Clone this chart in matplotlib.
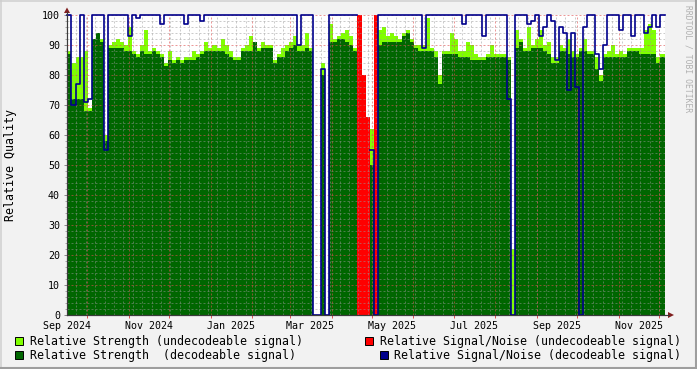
import numpy as np
import matplotlib
matplotlib.use("Agg")
import matplotlib.pyplot as plt
import matplotlib.dates as mdates
from matplotlib.patches import Rectangle, Polygon
from matplotlib.lines import Line2D
import datetime as dt

plt.rcParams['font.family'] = ['DejaVu Sans Mono']
plt.rcParams['lines.scale_dashes'] = False

# ---------------- data (3-day bins starting 2024-09-16) ----------------
start = dt.datetime(2024, 9, 16, 8)
span_days = 445
bin_days = 3

strength_dec = [
    87, 72, 72, 72, 68, 68, 92, 94, 91, 58,
    89, 89, 89, 89, 88, 88, 87, 86, 88, 87,
    87, 88, 87, 86, 83, 85, 84, 85, 84, 85,
    85, 85, 86, 87, 88, 88, 88, 88, 88, 87,
    86, 85, 85, 88, 88, 88, 91, 88, 89, 89,
    89, 84, 86, 86, 88, 89, 90, 88, 88, 89,
    88, 0, 0, 80, 0, 91, 91, 92, 92, 91,
    90, 88, 0, 0, 0, 50, 0, 90, 91, 91,
    91, 91, 91, 93, 94, 91, 89, 88, 88, 88,
    88, 86, 77, 87, 87, 87, 87, 86, 86, 86,
    85, 85, 85, 85, 86, 86, 86, 86, 86, 85,
    0, 89, 91, 88, 88, 89, 89, 89, 88, 87,
    84, 84, 88, 88, 87, 86, 86, 88, 88, 87,
    87, 82, 78, 86, 86, 86, 86, 86, 86, 88,
    88, 88, 87, 87, 87, 87, 84, 86, 86]

strength_undec = [
    88, 84, 86, 86, 88, 69, 92, 94, 92, 60,
    90, 91, 92, 91, 90, 96, 88, 87, 90, 95,
    88, 89, 88, 87, 84, 88, 85, 86, 85, 86,
    86, 88, 87, 88, 91, 89, 90, 89, 92, 90,
    88, 86, 86, 89, 90, 93, 91, 89, 91, 90,
    90, 85, 87, 89, 90, 91, 93, 90, 90, 94,
    89, 0, 0, 84, 0, 97, 92, 93, 94, 95,
    93, 89, 0, 0, 0, 62, 0, 95, 96, 93,
    94, 93, 92, 94, 95, 92, 90, 90, 90, 99,
    89, 88, 80, 88, 88, 94, 92, 88, 88, 91,
    90, 87, 86, 86, 87, 90, 87, 87, 87, 86,
    22, 95, 92, 89, 96, 90, 92, 95, 90, 91,
    86, 86, 90, 89, 92, 88, 87, 89, 92, 88,
    88, 86, 80, 87, 88, 90, 87, 88, 87, 89,
    89, 89, 89, 95, 97, 95, 86, 87, 87]

snr_undec = [0] * 72 + [100, 80, 66, 0, 100] + [0] * 72

nan = float('nan')
snr_dec = [
    100, 70, 77, 100, 71, 72, 100, 100, 100, 55,
    100, 100, 100, 100, 100, 93, 100, 99, 100, 100,
    100, 100, 100, 97, 100, 100, 100, 100, 100, 97,
    100, 100, 100, 98, 100, 100, 100, 100, 100, 100,
    100, 100, 100, 100, 100, 100, 100, 100, 100, 100,
    100, 100, 100, 100, 100, 100, 100, 90, 100, 100,
    100, 0, 0, 82, 0, 100, 100, 100, 100, 100,
    100, 100, nan, nan, nan, 55, 0, 100, 100, 100,
    100, 100, 100, 100, 100, 100, 100, 100, 89, 100,
    100, 100, 100, 100, 100, 100, 100, 100, 97, 100,
    100, 100, 100, 93, 100, 100, 100, 100, 100, 72,
    0, 100, 100, 100, 97, 98, 100, 93, 96, 100,
    98, 85, 96, 94, 75, 94, 76, 0, 96, 100,
    100, 87, 82, 90, 100, 100, 100, 95, 100, 100,
    93, 100, 100, 94, 96, 100, 96, 100, 100]

x_labels = ['Sep 2024', 'Nov 2024', 'Jan 2025', 'Mar 2025',
            'May 2025', 'Jul 2025', 'Sep 2025', 'Nov 2025']
legend_labels = ['Relative Strength (undecodeable signal)',
                 'Relative Strength  (decodeable signal)',
                 'Relative Signal/Noise (undecodeable signal)',
                 'Relative Signal/Noise (decodeable signal)']

# ---------------- style ----------------
W, H = 697, 369
BG = '#f2f2f2'
LG = '#80ff00'
DG = '#006600'
RED = '#ff0000'
BLUE = '#00008b'
GRID = (0.6, 0.6, 0.6, 0.6)
MGRID = (0.87, 0.31, 0.31, 0.6)
ARROW = '#801f1f'
AXIS = '#3a3a3a'

fig = plt.figure(figsize=(W / 100, H / 100), dpi=100, facecolor=BG)
L, R, T, B = 67, 665, 15, 315
ax = fig.add_axes([L / W, 1 - B / H, (R - L) / W, (B - T) / H])
ax.set_facecolor('white')

n = len(strength_dec)
t0 = mdates.date2num(start)
t1 = t0 + span_days
edges = t0 + np.minimum(np.arange(n + 1) * bin_days, span_days)


def stepv(v):
    v = np.asarray(v, float)
    return np.append(v, v[-1])


ax.fill_between(edges, 0, stepv(strength_undec), step='post', color=LG,
                lw=0, antialiased=False, zorder=1)
ax.fill_between(edges, 0, stepv(strength_dec), step='post', color=DG,
                lw=0, antialiased=False, zorder=1.1)
ax.fill_between(edges, 0, stepv(snr_undec), step='post', color=RED,
                lw=0, antialiased=False, zorder=1.2)

# grid (drawn over the areas, like rrdtool)
weeks = []
d = dt.datetime(2024, 9, 23)
while mdates.date2num(d) < t1:
    weeks.append(mdates.date2num(d))
    d += dt.timedelta(days=7)
months = []
y, m = 2024, 10
while True:
    v = mdates.date2num(dt.datetime(y, m, 1))
    if v >= t1:
        break
    months.append(v)
    m += 1
    if m > 12:
        m = 1
        y += 1
dots = (0, (1.44, 1.44))
ax.vlines(weeks, 0, 100, colors=[GRID], linestyles=[dots], lw=0.6, zorder=2)
ax.vlines(months, 0, 100, colors=[MGRID], linestyles=[dots], lw=0.7, zorder=2.1)
ymin_minor = [v for v in range(2, 100, 2) if v % 10 != 0]
ax.hlines(ymin_minor, t0, t1, colors=[GRID], linestyles=[dots], lw=0.6, zorder=2)
ax.hlines(list(range(10, 101, 10)), t0, t1, colors=[MGRID], linestyles=[dots],
          lw=0.7, zorder=2.1)

ax.step(edges, stepv(snr_dec), where='post', color=BLUE, lw=1.2, zorder=4,
        clip_on=False)

ax.set_xlim(t0, t1)
ax.set_ylim(0, 100)
for s in ['top', 'right']:
    ax.spines[s].set_visible(False)
for s in ['left', 'bottom']:
    ax.spines[s].set_color(AXIS)
    ax.spines[s].set_linewidth(0.8)
    ax.spines[s].set_zorder(5)

# x labels at mid-month every two months
lab_pos = []
for (yy, mm) in [(2024, 9), (2024, 11), (2025, 1), (2025, 3), (2025, 5),
                 (2025, 7), (2025, 9), (2025, 11)]:
    lab_pos.append(mdates.date2num(dt.datetime(yy, mm, 16)))
ax.set_xticks(lab_pos)
ax.set_xticklabels(x_labels)
ax.set_xticks(months, minor=True)
ax.tick_params(axis='x', which='major', length=0, pad=4.5, labelsize=7.2,
               labelcolor='black')
ax.tick_params(axis='x', which='minor', length=2.2, width=0.7,
               color=(0.87, 0.31, 0.31), direction='out')
ax.set_yticks(range(0, 101, 10))
ax.set_yticks(range(0, 101, 2), minor=True)
ax.tick_params(axis='y', which='major', length=2.5, width=0.7, color='#888888',
               pad=2.5, labelsize=7.2, labelcolor='black')
ax.tick_params(axis='y', which='minor', length=1.6, width=0.6, color='#999999')

# axis extensions and arrows
def fx(px):
    return px / W


def fy(py):
    return 1 - py / H


fig.add_artist(Line2D([fx(L), fx(L)], [fy(B), fy(12)], color=AXIS, lw=0.8))
fig.add_artist(Line2D([fx(L), fx(669)], [fy(B), fy(B)], color=AXIS, lw=0.8))
fig.add_artist(Polygon([[fx(64), fy(13)], [fx(70), fy(13)], [fx(67), fy(7.5)]],
                       closed=True, color=ARROW, lw=0, transform=fig.transFigure))
fig.add_artist(Polygon([[fx(668), fy(312)], [fx(668), fy(318)], [fx(674), fy(315)]],
                       closed=True, color=ARROW, lw=0, transform=fig.transFigure))

# y label and watermark
fig.text(fx(11), fy(165), 'Relative Quality', rotation=90, ha='center',
         va='center', fontsize=8.35, color='black')
fig.text(fx(688), fy(5), 'RRDTOOL / TOBI OETIKER', rotation=270, ha='center',
         va='top', fontsize=5.8, color='#b0b0b0')

# legend
legend_items = [
    (15, 337, 30, LG, legend_labels[0]),
    (15, 351, 30, DG, legend_labels[1]),
    (365, 337, 380, RED, legend_labels[2]),
    (379.5, 351, 394, BLUE, legend_labels[3]),
]
for bx, by, tx, col, lab in legend_items:
    fig.add_artist(Rectangle((fx(bx), fy(by + 8)), 8 / W, 8 / H, facecolor=col,
                             edgecolor='black', lw=0.7, transform=fig.transFigure))
    fig.text(fx(tx), fy(by + 4), lab, ha='left', va='center', fontsize=8.35,
             color='black')

# 3D frame
fig.add_artist(Line2D([0, 1], [fy(0.75), fy(0.75)], color='#cfcfcf', lw=1.1))
fig.add_artist(Line2D([fx(0.75), fx(0.75)], [0, 1], color='#cfcfcf', lw=1.1))
fig.add_artist(Line2D([0, 1], [fy(368), fy(368)], color='#9e9e9e', lw=1.5))
fig.add_artist(Line2D([fx(696), fx(696)], [0, 1], color='#9e9e9e', lw=1.5))

fig.savefig('out.png', dpi=100, facecolor=BG)
